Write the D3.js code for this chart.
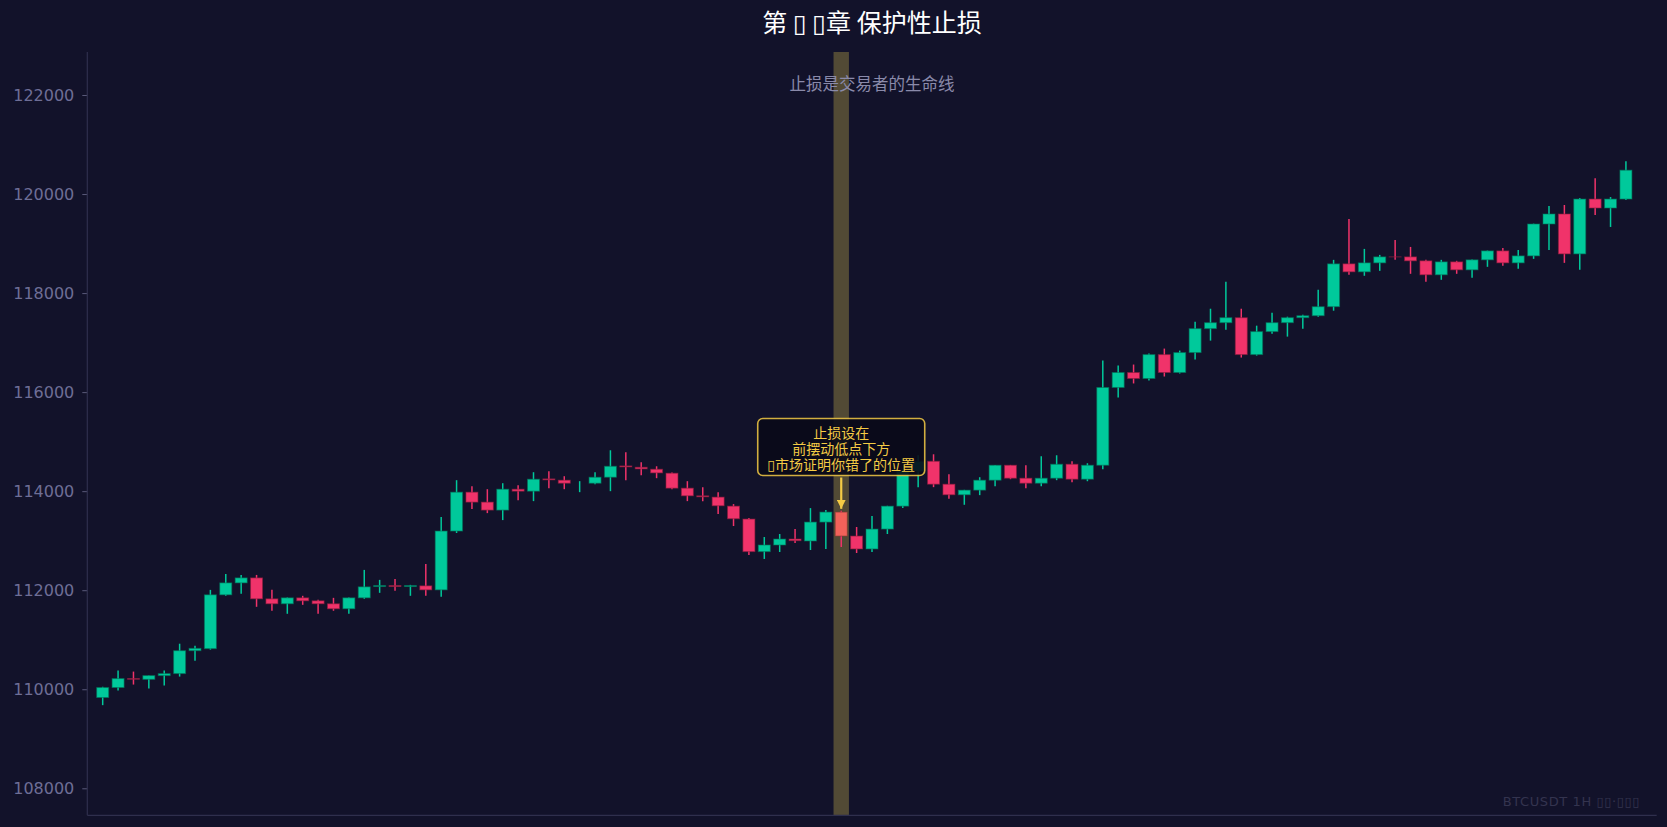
<!DOCTYPE html>
<html>
<head>
<meta charset="utf-8">
<script src="https://cdn.jsdelivr.net/npm/d3@7"></script>
<style>
  body { margin: 0; background: #12122a; }
  svg { display: block; }
</style>
</head>
<body>
<div id="chart"></div>
<script>
var W = 1667, H = 827

// OHLC, 100 hourly candles
var opens = [109833,110035,110216,110200,110276,110316,110779,110820,111907,112148,
  112249,111826,111726,111846,111786,111726,111625,111846,112074,112094,
  112074,112088,112007,113195,113980,113779,113618,114040,114000,114248,
  114222,114175,114161,114282,114510,114483,114443,114363,114061,113906,
  113880,113698,113437,112779,112913,113034,112994,113376,113578,113094,
  112833,113235,113698,114403,114604,114141,113927,114021,114222,114524,
  114262,114161,114262,114544,114242,114524,116094,116396,116275,116758,
  116396,116799,117282,117402,117503,116758,117222,117402,117503,117543,
  117725,118590,118429,118610,118731,118731,118651,118369,118630,118469,
  118671,118852,118610,118751,119395,119597,118791,119899,119718,119899]
var highs = [110050,110377,110357,110280,110377,110920,110880,112007,112329,112309,
  112309,112007,111853,111887,111806,111846,111853,112410,112209,112229,
  112108,112531,113477,114222,114101,114040,114161,114121,114383,114403,
  114302,114202,114383,114826,114785,114584,114503,114376,114202,114081,
  113980,113739,113457,113074,113135,113235,113658,113618,113604,113276,
  113497,113705,114420,114725,114745,114342,114027,114282,114530,114530,
  114524,114705,114725,114604,114564,116637,116537,116557,116778,116879,
  116839,117423,117684,118228,117684,117342,117604,117523,117564,118067,
  118671,119496,118892,118771,119073,118932,118671,118671,118651,118677,
  118859,118912,118872,119402,119758,119778,119919,120321,119939,120664]
var lows = [109679,109974,110095,110015,110075,110256,110578,110800,111887,111927,
  111665,111585,111524,111705,111524,111585,111524,111826,111947,111987,
  111887,111887,111866,113155,113638,113557,113416,113819,113799,114061,
  114040,113980,114141,114000,114222,114322,114262,114041,113799,113799,
  113537,113296,112712,112631,112772,112953,112812,112833,112873,112752,
  112772,113135,113658,114081,114081,113846,113725,113920,114101,114242,
  114061,114101,114222,114181,114201,114443,115893,116175,116235,116315,
  116376,116658,117040,117262,116698,116738,117181,117121,117282,117523,
  117644,118369,118349,118449,118671,118389,118228,118268,118389,118308,
  118530,118550,118489,118691,118872,118610,118469,119577,119335,119879]
var closes = [110035,110216,110202,110276,110316,110779,110826,111907,112148,112249,
  111826,111726,111846,111786,111726,111625,111846,112068,112094,112074,
  112094,112007,113195,113980,113779,113618,114040,114000,114242,114228,
  114161,114175,114282,114503,114490,114450,114369,114061,113906,113886,
  113705,113443,112779,112913,113034,113000,113376,113578,113094,112833,
  113235,113698,114403,114604,114141,113927,114021,114222,114524,114262,
  114161,114262,114544,114242,114524,116094,116396,116275,116758,116396,
  116799,117282,117402,117503,116758,117222,117402,117503,117543,117725,
  118590,118429,118610,118731,118729,118651,118369,118630,118469,118671,
  118852,118610,118751,119395,119597,118791,119899,119718,119899,120482]

var yTicks = [108000,110000,112000,114000,116000,118000,120000,122000]

var stopIndex = 48
var title = "第 ▯ ▯章 保护性止损"
var subtitle = "止损是交易者的生命线"
var noteLines = ["止损设在", "前摆动低点下方", "▯市场证明你错了的位置"]
var watermark = "BTCUSDT 1H  ▯▯·▯▯▯"

var upColor = "#00c99b"
var downColor = "#f0336a"
var stopColor = "#f2625a"
var gold = "#f4cb45"

var candles = opens.map(function(o, i){
    return {i: i, o: o, h: highs[i], l: lows[i], c: closes[i]}
})

var pLeft = 87.3, pRight = 1656.7, pTop = 52, pBottom = 815.3

var x = d3.scaleLinear().domain([-1, 101]).range([pLeft, pRight])
var y = d3.scaleLinear().domain([107455, 122868]).range([pBottom, pTop])
var step = x(1) - x(0)
var bodyW = step * 0.78

var svg = d3.select("#chart").append("svg").attr("width", W).attr("height", H)

svg.append("rect").attr("width", W).attr("height", H).attr("fill", "#12122a")

// highlighted stop-loss candle band
svg.append("rect")
    .attr("x", x(stopIndex - 0.5))
    .attr("y", pTop)
    .attr("width", step)
    .attr("height", pBottom - pTop)
    .attr("fill", "#e8cc50")
    .attr("fill-opacity", 0.3)

// y axis
var yAxis = d3.axisLeft(y).tickValues(yTicks).tickSize(5).tickPadding(8).tickFormat(d3.format("d"))
var gy = svg.append("g").attr("transform", "translate(" + pLeft + ",0)").call(yAxis)
gy.select(".domain").remove()
gy.selectAll("line").attr("stroke", "#5a5a7a")
gy.selectAll("text")
    .attr("fill", "#6e6e96")
    .style("font-family", "DejaVu Sans")
    .style("font-size", "16px")

// spines
svg.append("line").attr("x1", pLeft).attr("x2", pLeft).attr("y1", pTop).attr("y2", pBottom)
    .attr("stroke", "#2f2f4d").attr("stroke-width", 1.2)
svg.append("line").attr("x1", pLeft).attr("x2", pRight).attr("y1", pBottom).attr("y2", pBottom)
    .attr("stroke", "#2f2f4d").attr("stroke-width", 1.2)

function colorOf(d){
    if(d.i == stopIndex) return stopColor
    return d.c >= d.o ? upColor : downColor
}

// wicks
svg.append("g").selectAll("line")
    .data(candles)
    .enter()
    .append("line")
    .attr("x1", function(d){ return x(d.i) })
    .attr("x2", function(d){ return x(d.i) })
    .attr("y1", function(d){ return y(d.h) })
    .attr("y2", function(d){ return y(d.l) })
    .attr("stroke", function(d){ return d.c >= d.o ? upColor : downColor })
    .attr("stroke-width", 1.5)

// bodies
svg.append("g").selectAll("rect")
    .data(candles)
    .enter()
    .append("rect")
    .attr("x", function(d){ return x(d.i) - bodyW / 2 })
    .attr("y", function(d){ return y(Math.max(d.o, d.c)) })
    .attr("width", bodyW)
    .attr("height", function(d){ return Math.abs(y(d.o) - y(d.c)) })
    .attr("fill", colorOf)
    .attr("stroke", function(d){ return d3.color(colorOf(d)).darker(1.6) })
    .attr("stroke-opacity", 0.6)
    .attr("stroke-width", 1)

// annotation arrow + box
var stop = candles[stopIndex]
var ax = x(stopIndex)
var boxCy = y(114892)
var boxW = 167, boxH = 57
svg.append("defs").append("marker")
    .attr("id", "head")
    .attr("viewBox", "0 0 10 10")
    .attr("refX", 10).attr("refY", 5)
    .attr("markerWidth", 4).attr("markerHeight", 4)
    .attr("markerUnits", "strokeWidth")
    .attr("orient", "auto")
    .append("path").attr("d", "M0,0 L10,5 L0,10 z").attr("fill", gold)

svg.append("line")
    .attr("x1", ax).attr("x2", ax)
    .attr("y1", boxCy + boxH / 2 + 2)
    .attr("y2", y(stop.h) - 2)
    .attr("stroke", gold)
    .attr("stroke-width", 2.2)
    .attr("marker-end", "url(#head)")

svg.append("rect")
    .attr("x", ax - boxW / 2)
    .attr("y", boxCy - boxH / 2)
    .attr("width", boxW)
    .attr("height", boxH)
    .attr("rx", 5)
    .attr("fill", "#0a0a18")
    .attr("fill-opacity", 0.9)
    .attr("stroke", gold)
    .attr("stroke-opacity", 0.85)
    .attr("stroke-width", 1.6)

// one text element, three lines
svg.append("text")
    .attr("text-anchor", "middle")
    .attr("fill", gold)
    .style("font-family", "Noto Sans CJK SC, DejaVu Sans")
    .style("font-size", "14px")
    .selectAll("tspan")
    .data(noteLines)
    .enter()
    .append("tspan")
    .text(function(d){ return d })
    .attr("x", ax)
    .attr("y", function(d, i){ return boxCy - 9 + i * 16 })

// titles
svg.append("text")
    .text(title)
    .attr("x", (pLeft + pRight) / 2)
    .attr("y", 32)
    .attr("text-anchor", "middle")
    .attr("fill", "#ffffff")
    .style("font-family", "Noto Sans CJK SC, DejaVu Sans")
    .style("font-size", "25px")

svg.append("text")
    .text(subtitle)
    .attr("x", (pLeft + pRight) / 2)
    .attr("y", 90)
    .attr("text-anchor", "middle")
    .attr("fill", "#8a8aaa")
    .style("font-family", "Noto Sans CJK SC, DejaVu Sans")
    .style("font-size", "16.5px")

svg.append("text")
    .text(watermark)
    .attr("x", 1640)
    .attr("y", 806)
    .attr("text-anchor", "end")
    .attr("fill", "#34344f")
    .style("font-family", "DejaVu Sans")
    .style("font-size", "13px")
    .style("letter-spacing", "0.6px")
</script>
</body>
</html>
